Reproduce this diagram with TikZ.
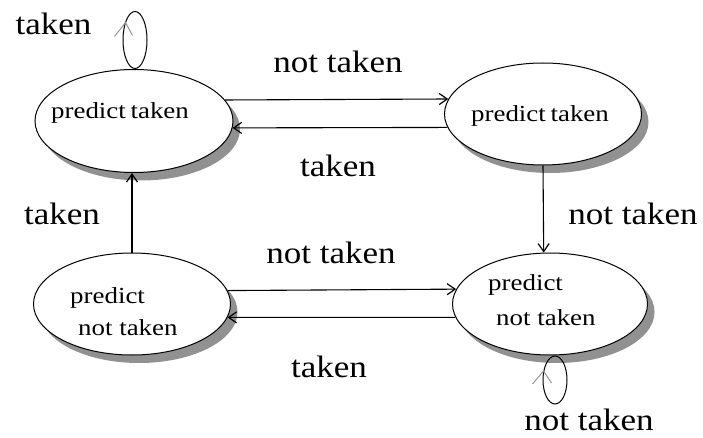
\documentclass[tikz,border=0pt]{standalone}
\usepackage{fontspec}
\setmainfont{Liberation Serif}
\newfontfamily\lblfont[FakeStretch=1.13]{Liberation Serif}
\newfontfamily\innerfont[FakeStretch=1.17]{Liberation Serif}
\usetikzlibrary{shapes.geometric,arrows.meta,shadows,calc}
\definecolor{shadowgray}{RGB}{145,145,145}
\definecolor{chevgray}{RGB}{150,150,150}
\tikzset{
  state/.style={draw=black, line width=1pt, ellipse, fill=white, inner sep=0pt,
    drop shadow={shadow xshift=7pt, shadow yshift=-8pt, fill=shadowgray, opacity=1, shadow scale=1}},
  lbl/.style={font=\lblfont\fontsize{31}{31}\selectfont, inner sep=0pt, anchor=base},
  intext/.style={font=\innerfont\fontsize{23}{23}\selectfont, inner sep=0pt},
  conn/.style={draw=black, line width=1.1pt, -{Straight Barb[length=8pt,width=11pt,line width=1.2pt]}},
  loopnode/.style={draw=black, line width=1pt, ellipse, inner sep=0pt},
  chev/.style={draw=chevgray, line width=1pt},
}
\begin{document}
\begin{tikzpicture}[x=1pt,y=-1pt]
\useasboundingbox[fill=white] (0,0) rectangle (703,438);
% states
\node[state, minimum width=198pt, minimum height=103pt] (TL) at (134,121) {};
\node[state, minimum width=197pt, minimum height=102pt] (TR) at (543,114) {};
\node[state, minimum width=197pt, minimum height=102pt] (BL) at (132,304) {};
\node[state, minimum width=195pt, minimum height=102pt] (BR) at (550,304) {};
% state texts
\node[intext, anchor=base] (tTL) at (120,119) {predict\hspace{-2pt} taken};
\node[intext, anchor=base] (tTR) at (540,122) {predict\hspace{-2pt} taken};
\node[intext, anchor=base west] (tBL1) at (70,303) {predict};
\node[intext, anchor=base west] (tBL2) at (78,335) {not taken};
\node[intext, anchor=base west] (tBR1) at (488,290) {predict};
\node[intext, anchor=base west] (tBR2) at (496,325) {not taken};
% connectors
\draw[conn] (TL.13) -- (TR.171.6);
\draw[conn] (TR.188.4) -- (TL.-4);
\draw[conn] (BL.8.4) -- (BR.171.6);
\draw[conn] (BR.188.4) -- (BL.-8.4);
\draw[conn] (TR.south) -- (BR.97.8);
\draw[conn] (BL.north) -- (BL.north |- TL.south);
% self loops
\node[loopnode, minimum width=24pt, minimum height=57pt, anchor=south, xshift=1pt] (loopA) at (TL.north) {};
\draw[chev] ($(loopA.west)+(-8,-3.5)$) -- ($(loopA.west)+(3,-17.5)$) -- ($(loopA.west)+(10,-4.5)$);
\node[loopnode, minimum width=24pt, minimum height=48pt, anchor=north, xshift=5pt] (loopB) at (BR.south) {};
\draw[chev] ($(loopB.west)+(-10,4)$) -- ($(loopB.west)+(1,-9)$) -- ($(loopB.west)+(9,3)$);
% labels
\node[lbl] (l1) at (53.5,35) {taken};
\node[lbl] (l2) at (338,73) {not taken};
\node[lbl] (l3) at (338,177) {taken};
\node[lbl] (l4) at (633,225) {not taken};
\node[lbl] (l5) at (62,225) {taken};
\node[lbl] (l6) at (331,263) {not taken};
\node[lbl] (l7) at (329,377) {taken};
\node[lbl] (l8) at (589,430) {not taken};
\end{tikzpicture}
\end{document}
